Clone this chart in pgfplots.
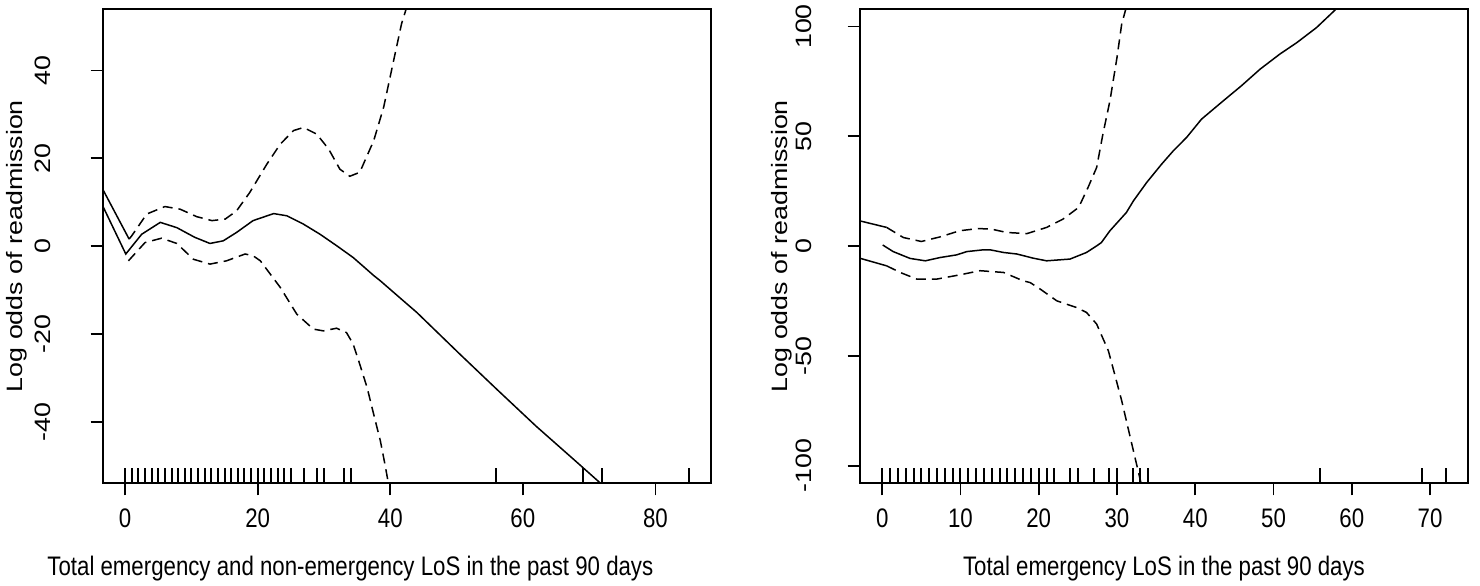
\documentclass[border=0pt]{standalone}
\usepackage{fontspec}
\setmainfont{Liberation Sans}
\usepackage{pgfplots}
\pgfplotsset{compat=1.18}
\newcommand{\lblfont}{\fontsize{13.4pt}{15pt}\selectfont}
\pgfplotsset{
  gamstyle/.style={
    scale only axis, width=304.25pt, height=237.2pt,
    axis line style={line width=0.9pt},
    every tick/.style={line width=0.8pt, black},
    tick align=outside, major tick length=6pt,
    xtick pos=bottom, ytick pos=left,
    font=\lblfont,
    /pgf/number format/assume math mode=true,
    every tick label/.append style={font=\lblfont, inner sep=0pt},
    every x tick label/.style={anchor=center, yshift=-11.4pt, xscale=0.83},
    every axis x label/.style={at={(axis description cs:0.5,0)}, anchor=center, yshift=-42.5pt, xscale=0.83},
    ylabel={Log odds of readmission},
  },
  fit/.style={line width=0.75pt, black},
  ci/.style={line width=0.75pt, black, dash pattern=on 5pt off 3pt},
  rug/.style={only marks, mark=|, mark size=3.75pt, mark options={line width=1pt, black}},
}
\begin{document}
\begin{tikzpicture}
\path[use as bounding box] (0,0) rectangle (740pt,292.5pt);
% ---------------- left panel ----------------
\begin{axis}[gamstyle, at={(51.3pt,50.85pt)}, anchor=south west,
  every y tick label/.style={anchor=center, xshift=-24pt, rotate=90, yscale=0.83},
  every axis y label/.style={at={(axis description cs:0,0.5)}, xshift=-43pt, rotate=90, anchor=center, yscale=0.83},
  xlabel style={xshift=-34pt},
  xmin=-3.4, xmax=88.4, ymin=-54, ymax=54,
  xtick={0,20,40,60,80}, xticklabels={0,20,40,60,80},
  ytick={-40,-20,0,20,40}, yticklabels={-40,-20,0,20,40},
  xlabel={Total emergency and non-emergency LoS in the past 90 days}]
\addplot[fit] coordinates {
(-3.4,9.2) (0.1,-1.8) (2.5,2.7) (5.3,5.4) (7.8,4.2) (10.5,2.0) (12.8,0.6) (14.8,1.2)
(16.8,3.1) (19.3,5.8) (22.4,7.4) (24.4,6.9) (26.9,5.0) (29.4,2.7) (31.9,0.1) (34.4,-2.6)
(37.5,-6.7) (38.5,-7.9) (41.7,-12.1) (44.0,-15.1) (50.5,-24.6) (56,-32.5) (62,-41)
(68,-49) (72.1,-54.5) (73,-56)};
\addplot[fit] coordinates {(-3.4,13.0) (0.6,1.6)};
\addplot[ci] coordinates {
(0.6,1.6) (1.0,2.35) (3.26,7.3) (6.0,9.0) (8.3,8.4) (10.8,6.7) (13.1,5.8) (15.1,6.15)
(16.8,8.0) (18.8,12.2) (21.4,18.7) (23.4,23.2) (25.4,26.3) (26.9,27.0) (28.9,25.5)
(30.7,22.1) (32.4,17.5) (33.9,15.9) (35.4,16.8) (37.5,24.0) (39.0,31.6) (40.5,42.2)
(41.7,50.6) (42.4,54.0) (42.5,55.3)};
\addplot[ci] coordinates {
(0.5,-3.35) (3.0,0.8) (5.5,1.8) (7.8,0.6) (10.3,-3.0) (12.8,-4.1) (15.3,-3.35)
(18.1,-1.8) (19.3,-2.2) (20.4,-3.35) (23.4,-9.4) (25.9,-15.5) (28.4,-18.9) (29.9,-19.3)
(31.9,-18.7) (33.4,-19.7) (34.4,-22.3) (35.4,-26.9) (36.5,-32.2) (37.5,-38.3)
(38.5,-44.3) (39.2,-49.7) (39.7,-53.9) (39.8,-55.1)};
\addplot[rug] coordinates {
(0,-52.29) (1,-52.29) (2,-52.29) (3,-52.29) (4,-52.29) (5,-52.29) (6,-52.29)
(7,-52.29) (8,-52.29) (9,-52.29) (10,-52.29) (11,-52.29) (12,-52.29) (13,-52.29)
(14,-52.29) (15,-52.29) (16,-52.29) (17,-52.29) (18,-52.29) (19,-52.29) (20,-52.29)
(21,-52.29) (22,-52.29) (23,-52.29) (24,-52.29) (25,-52.29) (27,-52.29) (29,-52.29)
(30,-52.29) (33,-52.29) (34,-52.29) (56,-52.29) (69,-52.29) (72,-52.29) (85,-52.29)};
\end{axis}
% ---------------- right panel ----------------
\begin{axis}[gamstyle, at={(429.85pt,50.85pt)}, anchor=south west,
  every y tick label/.style={anchor=center, xshift=-22pt, rotate=90, yscale=0.83},
  every axis y label/.style={at={(axis description cs:0,0.5)}, xshift=-39pt, rotate=90, anchor=center, yscale=0.83},
  xmin=-2.88, xmax=74.88, ymin=-108, ymax=108,
  xtick={0,10,20,30,40,50,60,70}, xticklabels={0,10,20,30,40,50,60,70},
  ytick={-100,-50,0,50,100}, yticklabels={-100,-50,0,50,100},
  xlabel={Total emergency LoS in the past 90 days}]
\addplot[fit] coordinates {
(0.06,0.5) (1.4,-2.5) (3.55,-5.6) (5.5,-6.7) (7.4,-5.2) (9.5,-4.0) (10.8,-2.5)
(12.9,-1.7) (13.8,-1.7) (15.5,-2.9) (17.2,-3.6) (19.3,-5.5) (21.0,-6.7) (24.0,-5.9)
(26.1,-2.9) (27.4,0.1) (28.0,1.6) (29.1,7.0) (31.2,15.3) (32.1,20.6) (33.8,29.0)
(35.7,37.3) (37.2,43.4) (38.9,49.5) (40.8,57.8) (43.6,66.2) (45.9,73.0) (48.3,80.6)
(50.8,87.4) (53.0,92.7) (55.5,99.5) (57.9,107.6) (58.3,109.4)};
\addplot[fit] coordinates {(-2.88,11.5) (0.57,8.5)};
\addplot[fit] coordinates {(-2.88,-5.5) (0.57,-9.0)};
\addplot[ci] coordinates {
(0.57,8.5) (2.7,3.9) (5.0,2.1) (7.4,4.2) (9.9,7.0) (12.3,8.0) (14.0,7.7) (15.9,6.2)
(18.5,5.7) (21.0,8.5) (23.1,12.3) (25.1,17.6) (26.3,26.7) (27.4,35.8) (28.2,51.0)
(29.1,66.2) (30.0,85.9) (30.6,101.1) (31.1,107.6) (31.2,110)};
\addplot[ci] coordinates {
(0.57,-9.0) (2.3,-12.0) (4.4,-15.0) (7.0,-15.0) (9.9,-13.1) (12.5,-11.2) (15.5,-12.0)
(18.0,-15.8) (18.9,-16.6) (20.2,-19.6) (22.3,-24.9) (24.85,-28.0) (26.1,-30.2)
(27.4,-35.5) (28.9,-47.7) (29.7,-58.3) (30.6,-70.4) (31.4,-82.6) (32.3,-96.3)
(32.8,-103.8) (33.1,-108.4) (33.2,-111)};
\addplot[rug] coordinates {
(0,-104.585) (1,-104.585) (2,-104.585) (3,-104.585) (4,-104.585) (5,-104.585)
(6,-104.585) (7,-104.585) (8,-104.585) (9,-104.585) (10,-104.585) (11,-104.585)
(12,-104.585) (13,-104.585) (14,-104.585) (15,-104.585) (16,-104.585) (17,-104.585)
(18,-104.585) (19,-104.585) (20,-104.585) (21,-104.585) (22,-104.585) (24,-104.585)
(25,-104.585) (27,-104.585) (29,-104.585) (30,-104.585) (32,-104.585) (33,-104.585)
(34,-104.585) (56,-104.585) (69,-104.585) (72,-104.585)};
\end{axis}
\end{tikzpicture}
\end{document}
